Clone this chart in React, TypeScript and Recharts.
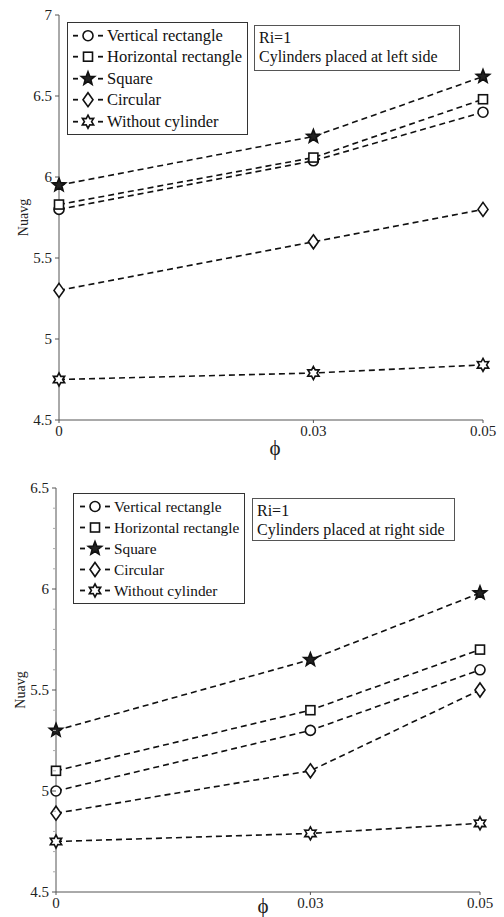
import React from 'react';
import { LineChart, Line, XAxis, YAxis, Legend } from 'recharts';

const SERIF = '"Liberation Serif", "Times New Roman", serif';

const phi = [0, 0.03, 0.05];
const seriesNames = ['Vertical rectangle', 'Horizontal rectangle', 'Square', 'Circular', 'Without cylinder'];
const markerShapes = ['circle', 'square', 'star', 'diamond', 'hexagram'];

// Ri=1, cylinders placed at left side
const leftVertical = [5.8, 6.1, 6.4];
const leftHorizontal = [5.83, 6.12, 6.48];
const leftSquare = [5.95, 6.25, 6.62];
const leftCircular = [5.3, 5.6, 5.8];
const leftWithout = [4.75, 4.79, 4.84];

// Ri=1, cylinders placed at right side
const rightVertical = [5.0, 5.3, 5.6];
const rightHorizontal = [5.1, 5.4, 5.7];
const rightSquare = [5.3, 5.65, 5.98];
const rightCircular = [4.89, 5.1, 5.5];
const rightWithout = [4.75, 4.79, 4.84];

const xTicks = [0, 0.03, 0.05];
const leftYTicks = [4.5, 5, 5.5, 6, 6.5, 7];
const rightYTicks = [4.5, 5, 5.5, 6, 6.5];
const rightYAllTicks = [
  4.5, 4.6, 4.7, 4.8, 4.9, 5, 5.1, 5.2, 5.3, 5.4, 5.5,
  5.6, 5.7, 5.8, 5.9, 6, 6.1, 6.2, 6.3, 6.4, 6.5,
];

const buildRows = (cols: number[][]) =>
  phi.map((p, i) => {
    const row: any = { phi: p };
    cols.forEach((c, k) => (row['s' + k] = c[i]));
    return row;
  });

const leftRows = buildRows([leftVertical, leftHorizontal, leftSquare, leftCircular, leftWithout]);
const rightRows = buildRows([rightVertical, rightHorizontal, rightSquare, rightCircular, rightWithout]);

function starPoints(cx: number, cy: number, n: number, R: number, r: number) {
  const pts: string[] = [];
  for (let i = 0; i < 2 * n; i++) {
    const a = -Math.PI / 2 + (i * Math.PI) / n;
    const rad = i % 2 === 0 ? R : r;
    pts.push(`${cx + rad * Math.cos(a)},${cy + rad * Math.sin(a)}`);
  }
  return pts.join(' ');
}

function Marker({ shape, cx, cy }: { shape: string; cx: number; cy: number }) {
  const st = { stroke: '#111', strokeWidth: 1.6, fill: '#fff' };
  if (shape === 'circle') return <circle cx={cx} cy={cy} r={5} {...st} />;
  if (shape === 'square') return <rect x={cx - 4.5} y={cy - 4.5} width={9} height={9} {...st} />;
  if (shape === 'diamond')
    return <polygon points={`${cx},${cy - 7} ${cx + 5},${cy} ${cx},${cy + 7} ${cx - 5},${cy}`} {...st} />;
  if (shape === 'star') return <polygon points={starPoints(cx, cy, 5, 7, 3)} {...st} fill="#222" />;
  return <polygon points={starPoints(cx, cy, 6, 6.5, 3.6)} {...st} />;
}

const makeDot = (shape: string) => (props: any) => (
  <Marker key={`${shape}-${props.index}`} shape={shape} cx={props.cx} cy={props.cy} />
);

function LegendBox({ fontSize, rowH, padLeft }: { fontSize: number; rowH: number; padLeft: number }) {
  return (
    <div
      style={{
        border: '1px solid #333',
        background: '#fff',
        padding: `2px 5px 2px ${padLeft}px`,
        fontFamily: SERIF,
        fontSize,
        lineHeight: rowH + 'px',
        color: '#111',
      }}
    >
      {seriesNames.map((name, i) => (
        <div key={name} style={{ display: 'flex', alignItems: 'center', whiteSpace: 'nowrap', height: rowH }}>
          <svg width={32} height={rowH} style={{ flex: 'none' }}>
            <line x1={1} x2={6} y1={rowH / 2} y2={rowH / 2} stroke="#111" strokeWidth={1.8} />
            <line x1={26} x2={31} y1={rowH / 2} y2={rowH / 2} stroke="#111" strokeWidth={1.8} />
            <Marker shape={markerShapes[i]} cx={16} cy={rowH / 2} />
          </svg>
          <span style={{ marginLeft: 3 }}>{name}</span>
        </div>
      ))}
    </div>
  );
}

function InfoBox({ left, top, width, height, lines, fontSize }: any) {
  return (
    <div
      style={{
        position: 'absolute',
        left,
        top,
        width,
        height,
        boxSizing: 'border-box',
        border: '1px solid #555',
        background: '#fff',
        padding: '2px 4px',
        fontFamily: SERIF,
        fontSize,
        lineHeight: '19px',
        color: '#111',
        whiteSpace: 'nowrap',
      }}
    >
      {lines.map((l: string) => (
        <div key={l}>{l}</div>
      ))}
    </div>
  );
}

// left axis tick: labels on majors, short grey marks on minors
const LeftTick = (props: any) => {
  const { x, y, payload, majors, labelSize } = props;
  const v = payload.value;
  const major = majors.some((m: number) => Math.abs(m - v) < 1e-6);
  const ax = x + 7;
  return (
    <g>
      <line x1={ax} x2={ax - (major ? 4 : 3)} y1={y} y2={y} stroke={major ? '#555' : '#aaa'} />
      {major && (
        <text x={x} y={y} dy={5} textAnchor="end" fontFamily={SERIF} fontSize={labelSize} fill="#222">
          {v}
        </text>
      )}
    </g>
  );
};

// right frame tick pointing inward
const RightTick = (props: any) => {
  const { x, y, color } = props;
  return <line x1={x} x2={x - 4} y1={y} y2={y} stroke={color} />;
};

const fmtPhi = (v: number) => (v === 0 ? '0' : v.toFixed(2));

function Panel({ rows, height, margin, yWidth, xHeight, yDomain, yMajors, yAll, frame, info, legendPos, legendFont, phiDx, phiOffset, ylabelOffset }: any) {
  return (
    <div style={{ position: 'relative', width: 504, height }}>
      <LineChart width={504} height={height} data={rows} margin={margin}>
        <XAxis
          dataKey="phi"
          type="number"
          domain={[0, 0.05]}
          ticks={xTicks}
          tickFormatter={fmtPhi}
          height={xHeight}
          tickSize={3}
          tickMargin={2}
          stroke="#555"
          tick={{ fill: '#222', fontFamily: SERIF, fontSize: 15 }}
          label={{ value: 'ϕ', position: 'insideBottom', offset: phiOffset, dx: phiDx, style: { fontFamily: SERIF, fontSize: 21, fill: '#222' } }}
        />
        <XAxis xAxisId="top" orientation="top" dataKey="phi" type="number" domain={[0, 0.05]} height={0} tick={false} tickLine={false} stroke={frame} />
        <YAxis
          type="number"
          domain={yDomain}
          ticks={yAll}
          interval={0}
          width={yWidth}
          tickSize={4}
          tickMargin={3}
          tickLine={false}
          stroke="#555"
          tick={<LeftTick majors={yMajors} labelSize={15} />}
          label={{ value: 'Nuavg', angle: -90, position: 'insideLeft', offset: ylabelOffset, style: { textAnchor: 'middle', fontFamily: SERIF, fontSize: 14, fill: '#222' } }}
        />
        <YAxis
          yAxisId="right"
          orientation="right"
          type="number"
          domain={yDomain}
          ticks={yAll}
          interval={0}
          width={0}
          tickSize={0}
          tickMargin={0}
          tickLine={false}
          stroke={frame}
          tick={<RightTick color="#999" />}
        />
        <Legend
          layout="vertical"
          align="center"
          verticalAlign="middle"
          wrapperStyle={{ position: 'absolute', left: legendPos.left, top: legendPos.top, width: 'auto', height: 'auto' }}
          content={() => <LegendBox fontSize={legendFont} rowH={legendPos.rowH} padLeft={legendPos.padLeft} />}
        />
        {seriesNames.map((name, i) => (
          <Line
            key={name}
            name={name}
            dataKey={'s' + i}
            type="linear"
            stroke="#111"
            strokeWidth={1.6}
            strokeDasharray="6 4"
            dot={makeDot(markerShapes[i])}
            activeDot={false}
            isAnimationActive={false}
          />
        ))}
      </LineChart>
      <InfoBox {...info} />
    </div>
  );
}

export default function App() {
  return (
    <div style={{ position: 'absolute', left: 0, top: 0, width: 504, height: 917, background: '#fff' }}>
      <Panel
        rows={leftRows}
        height={460}
        margin={{ top: 15, right: 21, bottom: 0, left: 0 }}
        yWidth={59}
        xHeight={40}
        yDomain={[4.5, 7]}
        yMajors={leftYTicks}
        yAll={leftYTicks}
        frame="#666"
        legendPos={{ left: 67, top: 22, rowH: 21.4, padLeft: 4 }}
        legendFont={16.5}
        phiDx={4}
        phiOffset={5}
        ylabelOffset={23}
        info={{ left: 254, top: 25, width: 206, height: 46, fontSize: 16, lines: ['Ri=1', 'Cylinders placed at left side'] }}
      />
      <Panel
        rows={rightRows}
        height={457}
        margin={{ top: 28, right: 24, bottom: 0, left: 0 }}
        yWidth={56}
        xHeight={25}
        yDomain={[4.5, 6.5]}
        yMajors={rightYTicks}
        yAll={rightYAllTicks}
        frame="#bbb"
        legendPos={{ left: 73, top: 33, rowH: 21, padLeft: 5 }}
        legendFont={15.3}
        phiDx={-5}
        phiOffset={4}
        ylabelOffset={20}
        info={{ left: 252, top: 38, width: 203, height: 43, fontSize: 16, lines: ['Ri=1', 'Cylinders placed at right side'] }}
      />
    </div>
  );
}
